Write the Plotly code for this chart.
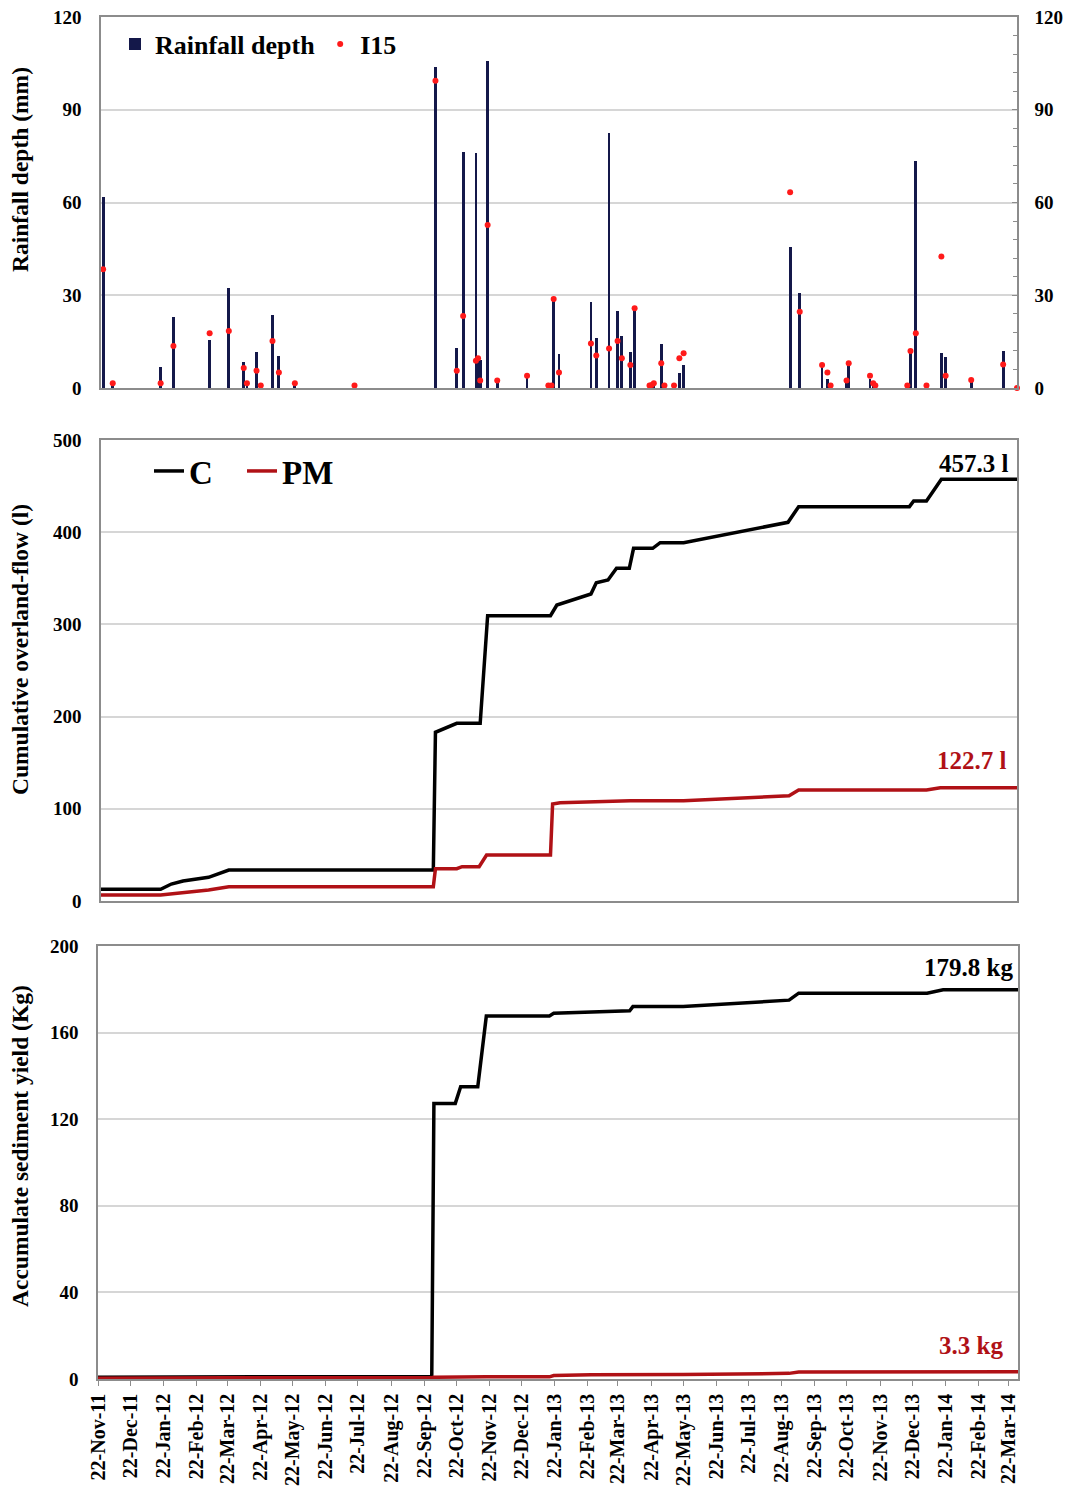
import plotly.graph_objects as go

# ---------------- data ----------------
event_dates = [
    "2011-11-24", "2011-12-03", "2012-01-17", "2012-01-29", "2012-03-03", "2012-03-21",
    "2012-04-04", "2012-04-07", "2012-04-16", "2012-04-20", "2012-05-01", "2012-05-07",
    "2012-05-22", "2012-07-17", "2012-10-01", "2012-10-21", "2012-10-27", "2012-11-08",
    "2012-11-10", "2012-11-12", "2012-11-19", "2012-11-28", "2012-12-26", "2013-01-15",
    "2013-01-18", "2013-01-20", "2013-01-25", "2013-02-24", "2013-03-01", "2013-03-13",
    "2013-03-21", "2013-03-25", "2013-04-02", "2013-04-06", "2013-04-20", "2013-04-22",
    "2013-04-24", "2013-05-01", "2013-05-04", "2013-05-13", "2013-05-18", "2013-05-22",
    "2013-08-30", "2013-09-08", "2013-09-29", "2013-10-04", "2013-10-07", "2013-10-22",
    "2013-10-24", "2013-11-13", "2013-11-16", "2013-11-18", "2013-12-18", "2013-12-21",
    "2013-12-26", "2014-01-05", "2014-01-19", "2014-01-23", "2014-02-16", "2014-03-18",
    "2014-03-31",
]
rainfall_depth = [
    61.7, 1.5, 6.9, 22.9, 15.5, 32.2,
    8.3, 2.0, 11.5, 1.0, 23.6, 10.3,
    2.0, 1.0, 103.9, 12.8, 76.4, 75.9,
    9.6, 9.0, 105.9, 2.4, 3.5, 1.0,
    1.0, 29.0, 10.9, 27.9, 16.1, 82.4,
    24.9, 16.8, 11.7, 25.8, 0.8, 1.0,
    1.5, 14.1, 0.8, 0.8, 4.7, 7.6,
    45.7, 30.6, 7.4, 2.9, 0.8, 2.4,
    8.0, 3.0, 1.5, 0.8, 0.8, 12.0,
    73.4, 0.8, 11.2, 9.9, 2.0, 12.1,
    0.0,
]
i15 = [
    38.4, 1.5, 1.5, 13.6, 17.7, 18.4,
    6.5, 1.5, 5.6, 0.8, 15.2, 5.0,
    1.5, 0.8, 99.4, 5.6, 23.3, 8.8,
    9.6, 2.4, 52.7, 2.4, 4.0, 0.8,
    0.8, 28.8, 5.0, 14.4, 10.5, 12.8,
    15.2, 9.6, 7.4, 25.8, 0.8, 1.0,
    1.5, 8.0, 0.8, 0.8, 9.6, 11.2,
    63.3, 24.7, 7.4, 5.0, 0.8, 2.4,
    8.0, 4.0, 1.5, 0.8, 0.8, 12.0,
    17.7, 0.8, 42.5, 4.0, 2.6, 7.6,
    0.0,
]

flow_dates_c = [
    "2011-11-22", "2012-01-17", "2012-01-27", "2012-02-07", "2012-03-02", "2012-03-21",
    "2012-09-29", "2012-10-01", "2012-10-21", "2012-11-12", "2012-11-19", "2013-01-17",
    "2013-01-23", "2013-02-24", "2013-03-01", "2013-03-12", "2013-03-20", "2013-04-01",
    "2013-04-05", "2013-04-23", "2013-04-30", "2013-05-22", "2013-08-28", "2013-09-07",
    "2013-12-20", "2013-12-24", "2014-01-05", "2014-01-19", "2014-03-31",
]
flow_c = [
    12.7, 12.7, 18.4, 21.7, 25.7, 33.6,
    33.6, 183.0, 192.7, 192.7, 309.4, 309.4,
    321.0, 333.0, 345.2, 348.2, 360.8, 360.8,
    382.5, 382.5, 388.6, 388.6, 410.7, 427.7,
    427.7, 433.8, 433.8, 457.3, 457.3,
]
flow_dates_pm = [
    "2011-11-22", "2012-01-17", "2012-03-02", "2012-03-21", "2012-09-29", "2012-10-01",
    "2012-10-21", "2012-10-26", "2012-11-11", "2012-11-18", "2013-01-17", "2013-01-19",
    "2013-01-26", "2013-02-25", "2013-04-02", "2013-05-22", "2013-08-29", "2013-09-07",
    "2014-01-05", "2014-01-18", "2014-03-31",
]
flow_pm = [
    6.5, 6.5, 11.9, 15.5, 15.5, 35.0,
    35.0, 37.2, 37.2, 49.9, 49.9, 105.2,
    106.6, 107.7, 108.8, 108.8, 114.2, 120.4,
    120.4, 122.7, 122.7,
]

sed_dates_c = [
    "2011-11-22", "2012-09-29", "2012-10-01", "2012-10-21", "2012-10-26", "2012-11-11",
    "2012-11-19", "2013-01-17", "2013-01-21", "2013-04-02", "2013-04-05", "2013-05-22",
    "2013-08-29", "2013-09-07", "2014-01-05", "2014-01-20", "2014-03-31",
]
sed_c = [
    0.8, 1.2, 127.3, 127.3, 135.0, 135.0,
    167.7, 167.7, 168.9, 170.1, 172.0, 172.0,
    175.0, 178.2, 178.2, 179.8, 179.8,
]
sed_dates_pm = [
    "2011-11-22", "2012-03-21", "2012-09-29", "2012-10-01", "2012-11-19", "2013-01-17",
    "2013-01-21", "2013-02-25", "2013-05-22", "2013-08-29", "2013-09-07", "2014-03-31",
]
sed_pm = [0.3, 0.6, 0.6, 0.8, 1.0, 1.0, 1.6, 2.0, 2.1, 2.6, 3.2, 3.3]

tick_dates = [
    "2011-11-22", "2011-12-22", "2012-01-22", "2012-02-22", "2012-03-22", "2012-04-22",
    "2012-05-22", "2012-06-22", "2012-07-22", "2012-08-22", "2012-09-22", "2012-10-22",
    "2012-11-22", "2012-12-22", "2013-01-22", "2013-02-22", "2013-03-22", "2013-04-22",
    "2013-05-22", "2013-06-22", "2013-07-22", "2013-08-22", "2013-09-22", "2013-10-22",
    "2013-11-22", "2013-12-22", "2014-01-22", "2014-02-22", "2014-03-22",
]
x_range = ["2011-11-22", "2014-03-31"]

# ---------------- style ----------------
W, H = 1072, 1486
OFF = 8  # page body margin: positions below are given in window pixels
FONT = "Liberation Serif"
NAVY = "#14184a"
RED_DOT = "#ff1a1a"
DARK_RED = "#b01116"
AXIS_GREY = "#8c8c8c"
GRID = "#d6d6d6"
DAY_MS = 86400000


def fx(p):
    return (p - OFF) / W


def fy(p):
    return 1 - (p - OFF) / H


def tfont(size):
    return dict(family=FONT, size=size, color="black", weight="bold")


fig = go.Figure()

# top panel
fig.add_trace(go.Bar(
    x=event_dates, y=rainfall_depth, name="Rainfall depth",
    marker=dict(color=NAVY, line=dict(width=0)), width=2.6 * DAY_MS,
    xaxis="x", yaxis="y", legend="legend",
))
fig.add_trace(go.Scatter(
    x=event_dates, y=i15, name="I15", mode="markers",
    marker=dict(color=RED_DOT, size=6), cliponaxis=False,
    xaxis="x", yaxis="y4", legend="legend",
))

# middle panel
fig.add_trace(go.Scatter(
    x=flow_dates_c, y=flow_c, name="C", mode="lines",
    line=dict(color="black", width=3.5), xaxis="x2", yaxis="y2", legend="legend2",
))
fig.add_trace(go.Scatter(
    x=flow_dates_pm, y=flow_pm, name="PM", mode="lines",
    line=dict(color=DARK_RED, width=3.5), xaxis="x2", yaxis="y2", legend="legend2",
))

# bottom panel
fig.add_trace(go.Scatter(
    x=sed_dates_c, y=sed_c, name="C", mode="lines", showlegend=False,
    line=dict(color="black", width=3.5), xaxis="x3", yaxis="y3",
))
fig.add_trace(go.Scatter(
    x=sed_dates_pm, y=sed_pm, name="PM", mode="lines", showlegend=False,
    line=dict(color=DARK_RED, width=3.5), xaxis="x3", yaxis="y3",
))

frame = dict(showline=True, mirror=True, linecolor=AXIS_GREY, linewidth=1.5,
             zeroline=False, automargin=False)

fig.update_layout(
    width=W, height=H,
    margin=dict(l=0, r=0, t=0, b=0, pad=0, autoexpand=False),
    paper_bgcolor="white", plot_bgcolor="white",
    font=dict(family=FONT, color="black"),
    bargap=0,
    xaxis=dict(domain=[fx(101), fx(1017)], range=x_range, type="date",
               showticklabels=False, ticks="", showgrid=False, anchor="y", **frame),
    yaxis=dict(domain=[fy(388), fy(17)], range=[0, 120], dtick=30, showgrid=True,
               gridcolor=GRID, gridwidth=1.5, tickfont=tfont(19), ticks="",
               ticklabelstandoff=14, ticklabeloverflow="allow", anchor="x", **frame),
    yaxis4=dict(overlaying="y", side="right", anchor="x", range=[0, 120], dtick=30,
                showgrid=False, tickfont=tfont(19), ticks="inside", ticklen=5,
                tickcolor=AXIS_GREY, ticklabelstandoff=12, automargin=False,
                ticklabeloverflow="allow",
                minor=dict(dtick=6, ticks="inside", ticklen=4, tickcolor=AXIS_GREY),
                showline=True, linecolor=AXIS_GREY, linewidth=1.5, zeroline=False),
    xaxis2=dict(domain=[fx(101), fx(1017)], range=x_range, type="date",
                showticklabels=False, ticks="", showgrid=False, anchor="y2", **frame),
    yaxis2=dict(domain=[fy(901), fy(440)], range=[0, 500], dtick=100, showgrid=True,
                gridcolor=GRID, gridwidth=1.5, tickfont=tfont(19), ticks="",
                ticklabelstandoff=14, ticklabeloverflow="allow", anchor="x2", **frame),
    xaxis3=dict(domain=[fx(98), fx(1018)], range=x_range, type="date",
                tickvals=tick_dates, tickformat="%d-%b-%y", tickangle=-90,
                tickfont=tfont(20), ticks="outside", ticklen=5, tickcolor=AXIS_GREY,
                ticklabeloverflow="allow", showgrid=False, anchor="y3", **frame),
    yaxis3=dict(domain=[fy(1379), fy(946)], range=[0, 200], dtick=40, showgrid=True,
                gridcolor=GRID, gridwidth=1.5, tickfont=tfont(19), ticks="",
                ticklabelstandoff=14, ticklabeloverflow="allow", anchor="x3", **frame),
    legend=dict(x=fx(115), y=fy(44), xanchor="left", yanchor="middle",
                orientation="h", font=tfont(26), bgcolor="rgba(0,0,0,0)",
                itemclick=False),
    legend2=dict(x=fx(149), y=fy(471), xanchor="left", yanchor="middle",
                 orientation="h", font=tfont(33), bgcolor="rgba(0,0,0,0)",
                 entrywidth=48, itemclick=False),
)

# axis titles
titles = [
    ("Rainfall depth (mm)", 170),
    ("Cumulative overland-flow (l)", 650),
    ("Accumulate sediment yield (Kg)", 1146),
]
for text, yc in titles:
    fig.add_annotation(text=text, xref="paper", yref="paper", x=fx(20), y=fy(yc),
                       textangle=-90, showarrow=False, font=tfont(23.5),
                       xanchor="center", yanchor="middle")

# end-value labels
end_labels = [
    ("457.3 l", flow_dates_c[-1], flow_c[-1], "x2", "y2", "black", -6, 16),
    ("122.7 l", flow_dates_pm[-1], flow_pm[-1], "x2", "y2", DARK_RED, -8, 27),
    ("179.8 kg", sed_dates_c[-1], sed_c[-1], "x3", "y3", "black", -3, 22),
    ("3.3 kg", sed_dates_pm[-1], sed_pm[-1], "x3", "y3", DARK_RED, -13, 26),
]
for text, xv, yv, xr, yr, col, xs, ys in end_labels:
    fig.add_annotation(text=text, x=xv, y=yv, xref=xr, yref=yr, showarrow=False,
                       xanchor="right", yanchor="middle", xshift=xs, yshift=ys,
                       font=dict(family=FONT, size=25, color=col, weight="bold"))

fig.write_html("out.html")
